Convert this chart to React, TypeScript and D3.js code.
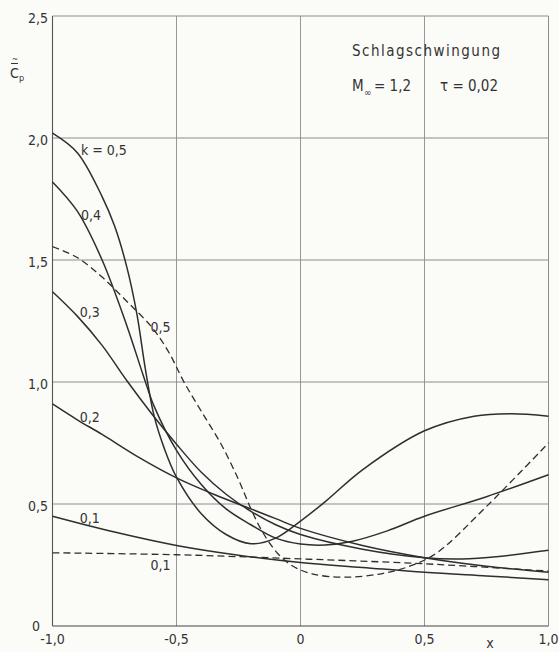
import React from 'react';
import * as d3 from 'd3';

// Schlagschwingung chart: C_p amplitude along chord, several reduced frequencies k.

const W = 559;
const H = 652;
const X0 = 52.5;
const X1 = 548.5;
const Y_TOP = 16;
const Y_BOT = 626;

const FONT = '"Liberation Sans Narrow", "DejaVu Sans Condensed", "Liberation Sans", sans-serif';
const INK = '#2e2e2e';
const GRID = '#8c8c8c';

type Pt = [number, number];

const xTicks = [-1, -0.5, 0, 0.5, 1];
const xTickLabels = ['-1,0', '-0,5', '0', '0,5', '1,0'];
const yTicks = [0, 0.5, 1, 1.5, 2, 2.5];
const yTickLabels = ['0', '0,5', '1,0', '1,5', '2,0', '2,5'];

// solid curves
const k05: Pt[] = [
  [-1, 2.02], [-0.9, 1.94], [-0.8, 1.76], [-0.75, 1.64], [-0.7, 1.47], [-0.66, 1.28],
  [-0.625, 1.05], [-0.59, 0.86], [-0.55, 0.73], [-0.5, 0.61], [-0.4, 0.46], [-0.3, 0.375],
  [-0.2, 0.337], [-0.1, 0.36], [0, 0.43], [0.1, 0.51], [0.25, 0.64], [0.5, 0.8], [0.7, 0.86],
  [0.85, 0.87], [1, 0.86],
];
const k04: Pt[] = [
  [-1, 1.82], [-0.9, 1.7], [-0.8, 1.5], [-0.7, 1.23], [-0.635, 1.03], [-0.59, 0.9],
  [-0.5, 0.72], [-0.4, 0.58], [-0.3, 0.48], [-0.2, 0.415], [-0.1, 0.36], [0, 0.336],
  [0.1, 0.332], [0.2, 0.345], [0.35, 0.39], [0.5, 0.45], [0.75, 0.53], [1, 0.62],
];
const k03: Pt[] = [
  [-1, 1.37], [-0.9, 1.27], [-0.8, 1.15], [-0.7, 1.005], [-0.6, 0.87], [-0.5, 0.745],
  [-0.4, 0.63], [-0.3, 0.54], [-0.2, 0.47], [-0.1, 0.415], [0, 0.375], [0.25, 0.315],
  [0.5, 0.28], [0.65, 0.275], [0.8, 0.285], [1, 0.31],
];
const k02: Pt[] = [
  [-1, 0.91], [-0.9, 0.845], [-0.8, 0.785], [-0.65, 0.69], [-0.5, 0.607], [-0.35, 0.54],
  [-0.2, 0.48], [-0.1, 0.44], [0, 0.4], [0.25, 0.33], [0.5, 0.28], [0.75, 0.245], [1, 0.22],
];
const k01: Pt[] = [
  [-1, 0.45], [-0.75, 0.385], [-0.5, 0.33], [-0.25, 0.29], [0, 0.26], [0.25, 0.24],
  [0.5, 0.22], [0.75, 0.205], [1, 0.19],
];

// dashed curves
const k05d: Pt[] = [
  [-1, 1.555], [-0.9, 1.51], [-0.8, 1.43], [-0.7, 1.33], [-0.6, 1.225], [-0.53, 1.12],
  [-0.47, 1.0], [-0.4, 0.88], [-0.32, 0.745], [-0.25, 0.6], [-0.2, 0.48], [-0.15, 0.38],
  [-0.09, 0.295], [-0.03, 0.245], [0.05, 0.213], [0.18, 0.2], [0.33, 0.215], [0.44, 0.245],
  [0.55, 0.3], [0.75, 0.49], [1, 0.75],
];
const k01d: Pt[] = [[-1, 0.3], [-0.5, 0.292], [0, 0.275], [0.5, 0.255], [1, 0.225]];

const solidSeries = [k05, k04, k03, k02, k01];
const dashedSeries = [k05d, k01d];

// curve labels: [x, y, text] in data units (anchor = start, baseline)
const curveLabels: [number, number, string][] = [
  [-0.885, 1.93, 'k = 0,5'],
  [-0.885, 1.665, '0,4'],
  [-0.89, 1.265, '0,3'],
  [-0.605, 1.205, '0,5'],
  [-0.89, 0.835, '0,2'],
  [-0.89, 0.423, '0,1'],
  [-0.605, 0.23, '0,1'],
];

export default function App() {
  const x = d3.scaleLinear().domain([-1, 1]).range([X0, X1]);
  const y = d3.scaleLinear().domain([0, 2.5]).range([Y_BOT, Y_TOP]);
  const line = d3
    .line<Pt>()
    .x((d) => x(d[0]))
    .y((d) => y(d[1]))
    .curve(d3.curveCatmullRom.alpha(0.5));

  return (
    <svg
      width={W}
      height={H}
      viewBox={`0 0 ${W} ${H}`}
      style={{ position: 'absolute', left: 0, top: 0, background: '#fbfbf8' }}
    >
      {/* grid */}
      {yTicks.slice(1).map((v) => (
        <line key={`gy${v}`} x1={X0} x2={X1} y1={y(v)} y2={y(v)} stroke={GRID} strokeWidth={1} />
      ))}
      {xTicks.slice(1, -1).map((v) => (
        <line key={`gx${v}`} x1={x(v)} x2={x(v)} y1={Y_TOP} y2={Y_BOT} stroke={GRID} strokeWidth={0.9} />
      ))}
      <line x1={X1} x2={X1} y1={Y_TOP} y2={Y_BOT} stroke={GRID} strokeWidth={1} />
      {/* axes */}
      <line x1={X0} x2={X0} y1={Y_TOP} y2={Y_BOT} stroke="#555" strokeWidth={1.1} />
      <line x1={X0} x2={X1} y1={Y_BOT} y2={Y_BOT} stroke="#444" strokeWidth={1.2} />

      {/* curves */}
      {solidSeries.map((s, i) => (
        <path key={`s${i}`} d={line(s) ?? ''} fill="none" stroke={INK} strokeWidth={1.5} />
      ))}
      {dashedSeries.map((s, i) => (
        <path
          key={`d${i}`}
          d={line(s) ?? ''}
          fill="none"
          stroke={INK}
          strokeWidth={1.3}
          strokeDasharray="7 4"
        />
      ))}

      {/* tick labels */}
      <g fontFamily={FONT} fontSize={14} fill="#333">
        {yTicks.map((v, i) => (
          <text
            key={`ty${v}`}
            x={v === 0 ? 40 : 48}
            y={v === 0 ? y(v) + 5 : y(v) + 7}
            textAnchor="end"
          >
            {yTickLabels[i]}
          </text>
        ))}
        {xTicks.map((v, i) => (
          <text key={`tx${v}`} x={x(v)} y={644} textAnchor="middle">
            {xTickLabels[i]}
          </text>
        ))}
        <text x={490} y={648} textAnchor="middle">x</text>

        {curveLabels.map(([cx, cy, t], i) => (
          <text key={`cl${i}`} x={x(cx)} y={y(cy)}>
            {t}
          </text>
        ))}
      </g>

      {/* y axis title */}
      <g fontFamily={FONT} fill="#333">
        <text x={10} y={78} fontSize={14}>C</text>
        <text x={19} y={81} fontSize={9}>p</text>
        <line x1={11} x2={18} y1={63.5} y2={63.5} stroke="#333" strokeWidth={1} />
        <text x={12} y={62} fontSize={8}>~</text>
      </g>

      {/* annotation */}
      <g fontFamily={FONT} fill="#333" fontSize={15}>
        <text x={352} y={56} textLength={148} lengthAdjust="spacing">Schlagschwingung</text>
        <text x={352} y={91}>M</text>
        <text x={364} y={96} fontSize={10}>∞</text>
        <text x={374} y={91}>= 1,2</text>
        <text x={440} y={91}>τ = 0,02</text>
      </g>
    </svg>
  );
}
